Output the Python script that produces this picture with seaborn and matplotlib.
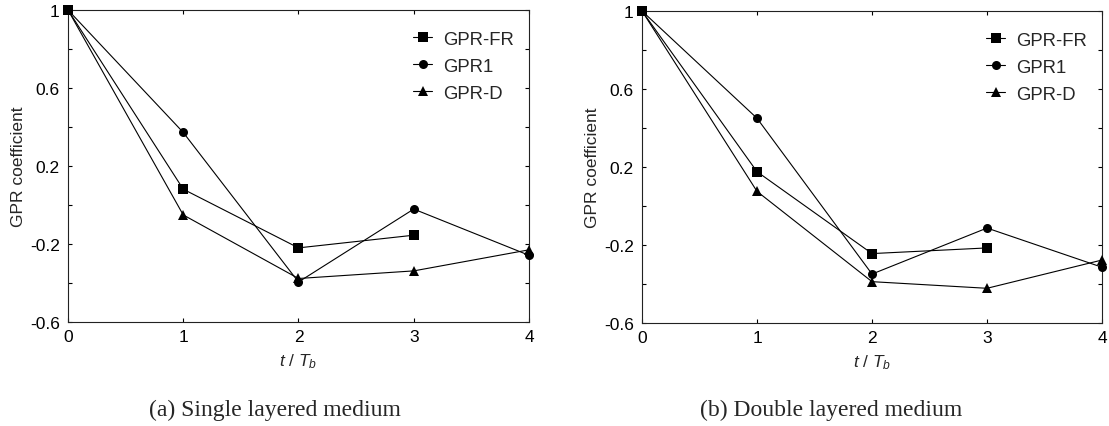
"""GPR coefficient versus t/Tb for single and double layered media."""
import matplotlib

matplotlib.use("Agg")
import matplotlib.pyplot as plt
import numpy as np
import pandas as pd
import seaborn as sns

# data
steps = [0, 1, 2, 3, 4]
single_fr = [1.0, 0.081, -0.220, -0.155, np.nan]
single_gpr1 = [1.0, 0.372, -0.395, -0.021, -0.258]
single_d = [1.0, -0.051, -0.377, -0.338, -0.230]
double_fr = [1.0, 0.176, -0.244, -0.215, np.nan]
double_gpr1 = [1.0, 0.450, -0.349, -0.113, -0.314]
double_d = [1.0, 0.075, -0.388, -0.422, -0.277]

series_names = ["GPR-FR", "GPR1", "GPR-D"]
series_markers = ["s", "o", "^"]
y_major = [-0.6, -0.2, 0.2, 0.6, 1.0]
y_major_labels = ["-0.6", "-0.2", "0.2", "0.6", "1"]
y_minor = [-0.4, 0.0, 0.4, 0.8]
captions = ["(a) Single layered medium", "(b) Double layered medium"]

sns.set_style("ticks")
plt.rcParams["font.family"] = ["Liberation Sans", "DejaVu Sans"]
plt.rcParams["mathtext.fontset"] = "custom"
plt.rcParams["mathtext.it"] = "Liberation Sans:italic"
plt.rcParams["mathtext.rm"] = "Liberation Sans"
plt.rcParams["axes.unicode_minus"] = False


def build_frame(fr, gpr1, d):
    rows = []
    for name, vals in zip(series_names, [fr, gpr1, d]):
        for x, y in zip(steps, vals):
            rows.append({"step": x, "coef": y, "series": name})
    return pd.DataFrame(rows).dropna()


panels = [
    build_frame(single_fr, single_gpr1, single_d),
    build_frame(double_fr, double_gpr1, double_d),
]

fig = plt.figure(figsize=(11.09, 4.27), dpi=100)
boxes = [
    [0.0613, 0.2436, 0.4157, 0.7307],
    [0.5789, 0.2412, 0.4148, 0.7307],
]
caption_x = [0.248, 0.749]

for box, df, cap, cx in zip(boxes, panels, captions, caption_x):
    ax = fig.add_axes(box)
    for name, mk in zip(series_names, series_markers):
        sub = df[df["series"] == name]
        sns.lineplot(
            data=sub, x="step", y="coef", ax=ax, color="black",
            marker=mk, markersize=6.5, markeredgewidth=0,
            linewidth=0.8, label=name, clip_on=False, zorder=3,
        )
    ax.set_xlim(0, 4)
    ax.set_ylim(-0.6, 1.0)
    ax.set_xticks(steps)
    ax.set_xticklabels([str(s) for s in steps])
    ax.set_yticks(y_major)
    ax.set_yticklabels(y_major_labels)
    ax.set_yticks(y_minor, minor=True)
    ax.tick_params(which="both", direction="in", top=True, right=True,
                   labelsize=12.5, colors="black", length=3, width=0.8)
    ax.tick_params(axis="x", pad=5)
    ax.tick_params(axis="y", pad=6)
    for sp in ax.spines.values():
        sp.set_linewidth(0.8)
        sp.set_color("#222222")
    ax.set_xlabel("$t$ / $T_b$", fontsize=12.5, labelpad=5)
    ax.set_ylabel("GPR coefficient", fontsize=12.5, labelpad=3)
    ax.legend(loc="upper right", frameon=False, fontsize=13.3,
              handlelength=1.0, handletextpad=0.6, labelspacing=0.55,
              bbox_to_anchor=(0.967, 0.934), borderaxespad=0, borderpad=0)
    fig.text(cx, 0.04, cap, ha="center", va="center",
             fontsize=17, family=["Liberation Serif", "DejaVu Serif"])

fig.savefig("out.png", dpi=100)
